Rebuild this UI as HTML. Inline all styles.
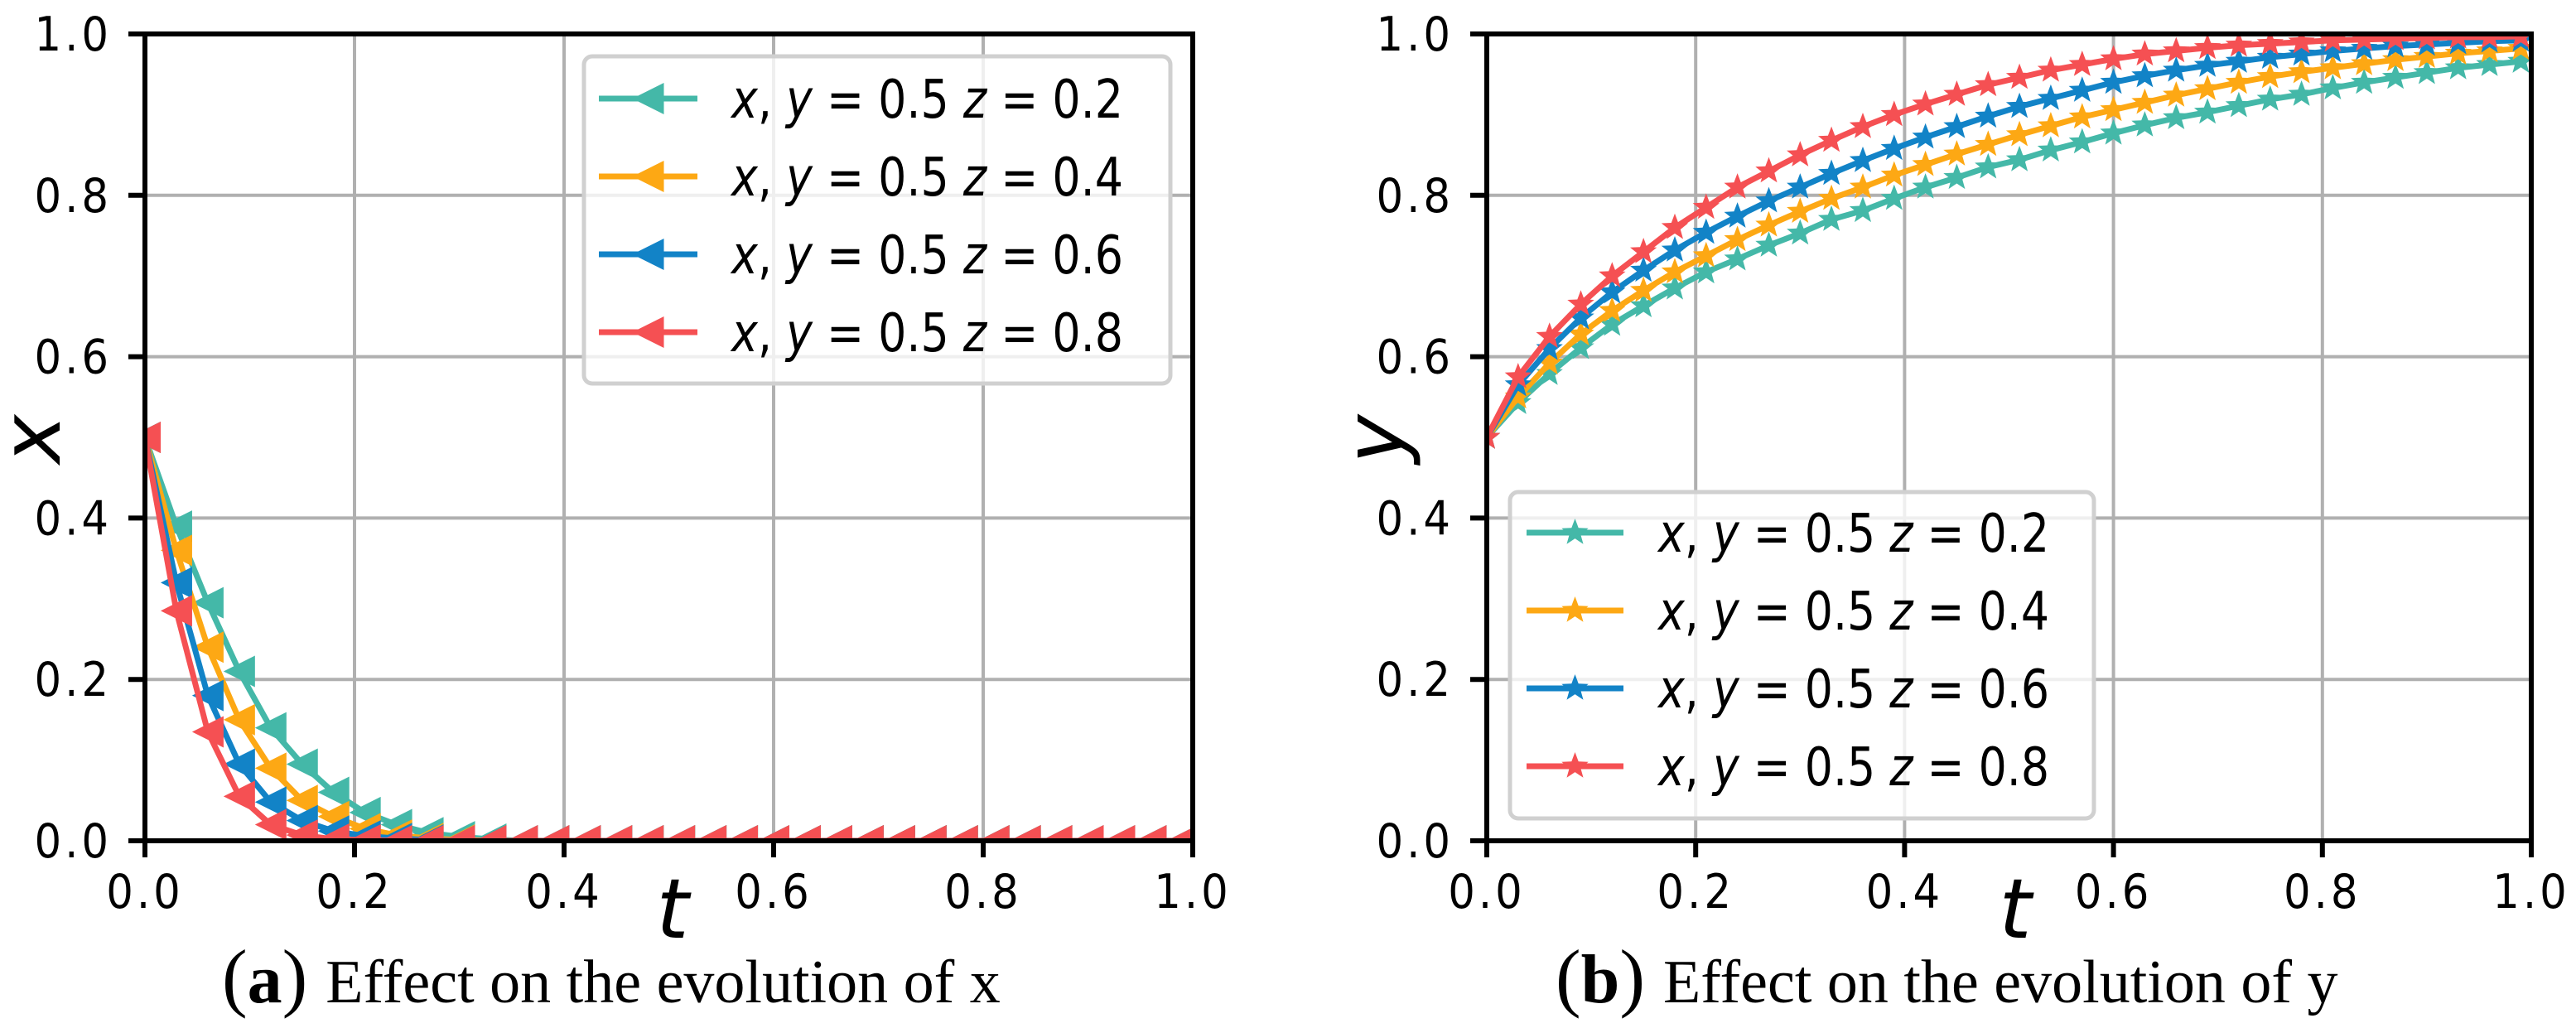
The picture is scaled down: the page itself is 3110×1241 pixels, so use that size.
<!DOCTYPE html>
<html><head><meta charset="utf-8"><style>
html,body{margin:0;padding:0;background:#fff;}
svg{display:block;}
</style></head><body>
<svg id="fig" width="3110" height="1241" viewBox="0 0 3110 1241" xmlns="http://www.w3.org/2000/svg">
<rect width="3110" height="1241" fill="#fff"/>
<defs>
<clipPath id="clipA"><rect x="175" y="41" width="1265" height="974"/></clipPath>
<clipPath id="clipB"><rect x="1795" y="41" width="1261" height="974"/></clipPath>
</defs>
<g id="panelA"></g>
<g id="panelB"></g>
</svg>
<script>
// ---- data ----
const tValues = [0,0.03,0.06,0.09,0.12,0.15,0.18,0.21,0.24,0.27,0.30,0.33,0.36,0.39,0.42,0.45,0.48,0.51,0.54,0.57,0.60,0.63,0.66,0.69,0.72,0.75,0.78,0.81,0.84,0.87,0.90,0.93,0.96,0.99];
const seriesLabels = ["z = 0.2","z = 0.4","z = 0.6","z = 0.8"];
const seriesColors = ["#44B8A8","#FDA814","#1283C7","#F55053"];
const xTickLabels = ["0.0","0.2","0.4","0.6","0.8","1.0"];
const yTickLabels = ["0.0","0.2","0.4","0.6","0.8","1.0"];
const xSeries02 = [0.5,0.39,0.295,0.21,0.14,0.095,0.06,0.035,0.02,0.01,0.005,0.002,0,0,0,0,0,0,0,0,0,0,0,0,0,0,0,0,0,0,0,0,0,0];
const xSeries04 = [0.5,0.36,0.24,0.15,0.09,0.05,0.03,0.015,0.007,0.003,0.001,0,0,0,0,0,0,0,0,0,0,0,0,0,0,0,0,0,0,0,0,0,0,0];
const xSeries06 = [0.5,0.32,0.18,0.095,0.048,0.025,0.012,0.006,0.003,0.001,0,0,0,0,0,0,0,0,0,0,0,0,0,0,0,0,0,0,0,0,0,0,0,0];
const xSeries08 = [0.5,0.285,0.135,0.055,0.02,0.007,0.002,0.001,0,0,0,0,0,0,0,0,0,0,0,0,0,0,0,0,0,0,0,0,0,0,0,0,0,0];
const ySeries02 = [0.5,0.543,0.579,0.611,0.64,0.663,0.685,0.705,0.721,0.738,0.753,0.77,0.781,0.796,0.81,0.822,0.835,0.844,0.856,0.866,0.877,0.887,0.896,0.903,0.911,0.919,0.925,0.933,0.94,0.946,0.952,0.958,0.962,0.966];
const ySeries04 = [0.5,0.55,0.592,0.628,0.657,0.682,0.705,0.725,0.745,0.763,0.78,0.796,0.81,0.825,0.838,0.851,0.863,0.875,0.886,0.897,0.906,0.915,0.924,0.932,0.94,0.947,0.953,0.958,0.963,0.968,0.972,0.976,0.979,0.982];
const ySeries06 = [0.5,0.565,0.61,0.648,0.68,0.707,0.732,0.754,0.774,0.793,0.81,0.827,0.843,0.858,0.872,0.885,0.898,0.91,0.92,0.93,0.94,0.948,0.955,0.961,0.966,0.971,0.975,0.979,0.982,0.985,0.987,0.989,0.991,0.992];
const ySeries08 = [0.5,0.575,0.625,0.665,0.70,0.73,0.76,0.785,0.81,0.83,0.85,0.868,0.885,0.9,0.913,0.925,0.937,0.946,0.955,0.962,0.969,0.975,0.979,0.983,0.986,0.988,0.99,0.992,0.993,0.994,0.995,0.996,0.996,0.997];

const NS = "http://www.w3.org/2000/svg";
function mk(tag, attrs, parent){
  const e = document.createElementNS(NS, tag);
  for (const k in attrs) e.setAttribute(k, attrs[k]);
  if (parent) parent.appendChild(e);
  return e;
}
function starPath(cx, cy, R){
  const r = R*0.42; let d="";
  for(let i=0;i<10;i++){
    const a = -Math.PI/2 + i*Math.PI/5; const rr = i%2?r:R;
    d += (i?"L":"M")+(cx+rr*Math.cos(a)).toFixed(1)+","+(cy+rr*Math.sin(a)).toFixed(1);
  }
  return d+"Z";
}
function triPath(cx, cy, s){
  return "M"+(cx-s)+","+cy+"L"+(cx+s)+","+(cy-s)+"L"+(cx+s)+","+(cy+s)+"Z";
}

function drawPanel(g, cfg){
  const x0=cfg.x0, x1=cfg.x1, yT=41, yB=1015;
  const sx = v => x0 + v*(x1-x0);
  const sy = v => yB - v*(yB-yT);
  for (let i=0;i<xTickLabels.length;i++){
    const v = parseFloat(xTickLabels[i]);
    const gl = mk("line",{x1:sx(v),x2:sx(v),y1:yT,y2:yB,stroke:"#b0b0b0","stroke-width":4},g);
    
    
  }
  for (let i=0;i<yTickLabels.length;i++){
    const v = parseFloat(yTickLabels[i]);
    const gl = mk("line",{x1:x0,x2:x1,y1:sy(v),y2:sy(v),stroke:"#b0b0b0","stroke-width":4},g);
    
    
  }
  const sg = mk("g",{"clip-path":"url(#"+cfg.clip+")"},g);
  
  
  cfg.data.forEach((arr, si)=>{
    const col = seriesColors[si];
    let d="";
    arr.forEach((v,i)=>{ d += (i?"L":"M")+sx(tValues[i]).toFixed(1)+","+sy(v).toFixed(1); });
    const ln = mk("path",{d:d,fill:"none",stroke:col,"stroke-width":7,"stroke-linejoin":"round"},sg);
    
    
    arr.forEach((v,i)=>{
      const p = cfg.marker==="tri" ? triPath(sx(tValues[i]), sy(v), 19) : starPath(sx(tValues[i]), sy(v), 17);
      const m = mk("path",{d:p,fill:col},sg);
      
      
    });
  });
  const sp = mk("rect",{x:x0,y:yT,width:x1-x0,height:yB-yT,fill:"none",stroke:"#000","stroke-width":6},g);
  
  
  xTickLabels.forEach(lbl=>{
    const v=parseFloat(lbl);
    const tk = mk("line",{x1:sx(v),x2:sx(v),y1:yB,y2:yB+20,stroke:"#000","stroke-width":6},g);
    
    
    const t = mk("text",{x:sx(v),y:1096,"text-anchor":"middle","letter-spacing":4,"font-family":"DejaVu Sans Condensed, DejaVu Sans, sans-serif","font-size":57},g);
    t.textContent=lbl;
    
    
  });
  yTickLabels.forEach(lbl=>{
    const v=parseFloat(lbl);
    const tk = mk("line",{x1:x0-20,x2:x0,y1:sy(v),y2:sy(v),stroke:"#000","stroke-width":6},g);
    
    
    const t = mk("text",{x:x0-40,y:sy(v)+20,"text-anchor":"end","letter-spacing":4,"font-family":"DejaVu Sans Condensed, DejaVu Sans, sans-serif","font-size":57},g);
    t.textContent=lbl;
    
    
  });
  const xt = mk("text",{x:cfg.tX,y:1132,"font-family":"DejaVu Sans, sans-serif","font-style":"italic","font-size":100,"text-anchor":"middle"},g);
  xt.textContent="t";
  
  
  const yt = mk("text",{x:0,y:0,"font-family":"DejaVu Sans, sans-serif","font-style":"italic","font-size":100,"text-anchor":"middle",transform:"translate("+cfg.yLX+",530) rotate(-90)"},g);
  yt.textContent=cfg.yLabel;
  
  
  const L = cfg.leg;
  const lg = mk("g",{},g);
  
  
  mk("rect",{x:L.x,y:L.y,width:L.w,height:L.h,rx:10,fill:"#fff","fill-opacity":0.8,stroke:"#d0d0d0","stroke-width":5},lg);
  seriesLabels.forEach((lbl,si)=>{
    const ry = L.row0 + si*L.dy;
    const col = seriesColors[si];
    const e = mk("g",{},lg);
    
    
    mk("line",{x1:L.lx0,x2:L.lx1,y1:ry,y2:ry,stroke:col,"stroke-width":7},e);
    const mc=(L.lx0+L.lx1)/2;
    mk("path",{d: cfg.marker==="tri"? triPath(mc,ry,19) : starPath(mc,ry,17), fill:col},e);
    const t = mk("text",{x:L.tx,y:ry+23,"font-family":"DejaVu Sans Condensed, DejaVu Sans, sans-serif","font-size":64,textLength:L.tw,lengthAdjust:"spacingAndGlyphs"},e);
    const parts=[["x",1],[", ",0],["y",1],[" = 0.5  ",0],["z",1],[" = "+lbl.split("= ")[1],0]];
    parts.forEach(p=>{ const s=mk("tspan",{},t); if(p[1]) s.setAttribute("font-style","italic"); s.textContent=p[0]; });
  });
  const cap = mk("text",{x:cfg.capX,y:1210,"font-family":"Liberation Serif, serif","font-size":74},g);
  
  
  const a=mk("tspan",{"font-size":92},cap); a.textContent="(";
  const b=mk("tspan",{"font-weight":"bold","font-size":84},cap); b.textContent=cfg.letter;
  const c=mk("tspan",{"font-size":92},cap); c.textContent=")";
  const d=mk("tspan",{dx:22},cap); d.textContent=cfg.caption;
}

drawPanel(document.getElementById("panelA"),{
  x0:175,x1:1440,clip:"clipA",marker:"tri",data:[xSeries02,xSeries04,xSeries06,xSeries08],
  tX:812,yLX:72,yLabel:"x",
  leg:{x:705,y:68,w:708,h:395,row0:119,dy:94,lx0:723,lx1:842,tx:883,tw:473},
  capX:268,letter:"a",caption:"Effect on the evolution of x"
});
drawPanel(document.getElementById("panelB"),{
  x0:1795,x1:3056,clip:"clipB",marker:"star",data:[ySeries02,ySeries04,ySeries06,ySeries08],
  tX:2433,yLX:1694,yLabel:"y",
  leg:{x:1823,y:594,w:705,h:394,row0:643,dy:94,lx0:1843,lx1:1960,tx:2002,tw:472},
  capX:1878,letter:"b",caption:"Effect on the evolution of y"
});
</script>
</body></html>
